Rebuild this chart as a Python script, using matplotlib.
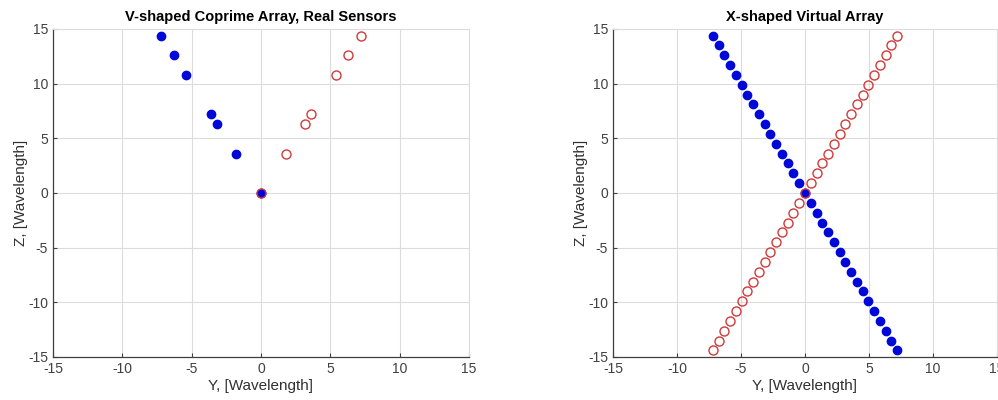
import matplotlib.pyplot as plt

plt.rcParams['font.family'] = ['Liberation Sans', 'DejaVu Sans']
plt.rcParams['axes.unicode_minus'] = False

# real sensors (V shape)
real_blue_y = [-7.2, -6.3, -5.4, -3.6, -3.15, -1.8, 0.0]
real_blue_z = [14.4, 12.6, 10.8, 7.2, 6.3, 3.6, 0.0]
real_red_y = [0.0, 1.8, 3.15, 3.6, 5.4, 6.3, 7.2]
real_red_z = [0.0, 3.6, 6.3, 7.2, 10.8, 12.6, 14.4]

# virtual array (X shape)
virt_z = [14.4, 13.5, 12.6, 11.7, 10.8, 9.9, 9.0, 8.1, 7.2, 6.3, 5.4, 4.5, 3.6,
          2.7, 1.8, 0.9, 0.0, -0.9, -1.8, -2.7, -3.6, -4.5, -5.4, -6.3, -7.2,
          -8.1, -9.0, -9.9, -10.8, -11.7, -12.6, -13.5, -14.4]
virt_blue_y = [-7.2, -6.75, -6.3, -5.85, -5.4, -4.95, -4.5, -4.05, -3.6, -3.15,
               -2.7, -2.25, -1.8, -1.35, -0.9, -0.45, 0.0, 0.45, 0.9, 1.35, 1.8,
               2.25, 2.7, 3.15, 3.6, 4.05, 4.5, 4.95, 5.4, 5.85, 6.3, 6.75, 7.2]
virt_red_y = [7.2, 6.75, 6.3, 5.85, 5.4, 4.95, 4.5, 4.05, 3.6, 3.15, 2.7, 2.25,
              1.8, 1.35, 0.9, 0.45, 0.0, -0.45, -0.9, -1.35, -1.8, -2.25, -2.7,
              -3.15, -3.6, -4.05, -4.5, -4.95, -5.4, -5.85, -6.3, -6.75, -7.2]

ticks = [-15, -10, -5, 0, 5, 10, 15]
blue = '#0008d8'
red = '#d03a3a'

fig = plt.figure(figsize=(9.98, 4.0), dpi=100)
ax1 = fig.add_axes([0.0531, 0.1075, 0.4168, 0.82])
ax2 = fig.add_axes([0.6142, 0.1075, 0.3848, 0.82])


def style(ax, title):
    ax.set_xlim(-15, 15)
    ax.set_ylim(-15, 15)
    ax.set_xticks(ticks)
    ax.set_yticks(ticks)
    ax.grid(True, color='#dcdcdc', linewidth=0.8)
    ax.set_axisbelow(True)
    for s in ['top', 'right']:
        ax.spines[s].set_color('#dcdcdc')
        ax.spines[s].set_linewidth(0.8)
    for s in ['left', 'bottom']:
        ax.spines[s].set_color('#404040')
        ax.spines[s].set_linewidth(0.9)
    ax.tick_params(direction='in', length=3, labelsize=10, colors='#404040',
                   top=False, right=False)
    ax.set_xlabel('Y, [Wavelength]', fontsize=11, color='#303030', labelpad=2)
    ax.set_ylabel('Z, [Wavelength]', fontsize=11, color='#303030', labelpad=0)
    ax.set_title(title, fontsize=10.5, fontweight='bold', pad=6)


ax1.plot(real_blue_y, real_blue_z, 'o', color=blue, markersize=6, linestyle='none')
ax1.plot(real_red_y, real_red_z, 'o', markerfacecolor='none', markeredgecolor=red,
         markersize=6.5, markeredgewidth=1.0, linestyle='none')
style(ax1, 'V-shaped Coprime Array, Real Sensors')

ax2.plot(virt_blue_y, virt_z, 'o', color=blue, markersize=6, linestyle='none')
ax2.plot(virt_red_y, virt_z, 'o', markerfacecolor='none', markeredgecolor=red,
         markersize=6.5, markeredgewidth=1.0, linestyle='none')
style(ax2, 'X-shaped Virtual Array')

fig.savefig('out.png', dpi=100)
